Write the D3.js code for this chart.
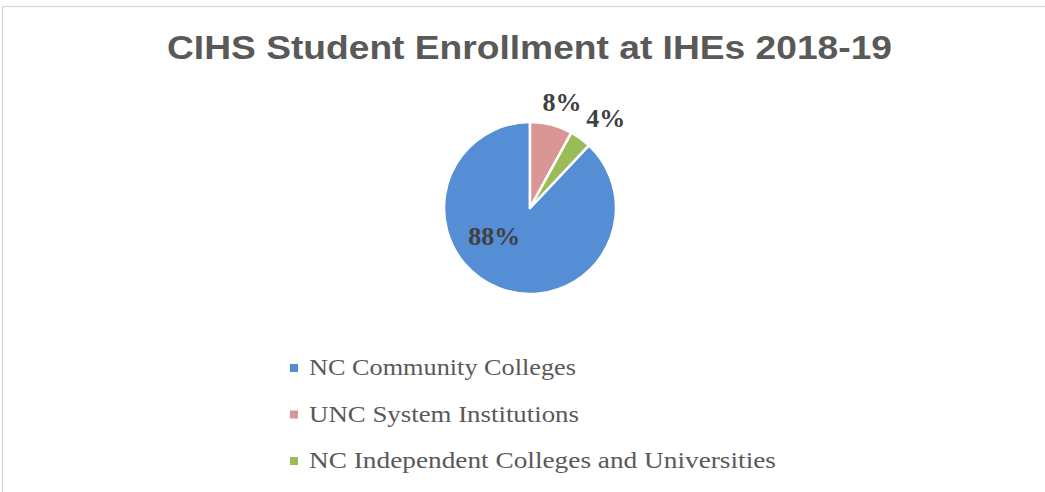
<!DOCTYPE html>
<html>
<head>
<meta charset="utf-8">
<script src="https://cdn.jsdelivr.net/npm/d3@7"></script>
<style>
  html, body { margin: 0; padding: 0; background: #fff; }
  svg { display: block; }
</style>
</head>
<body>
<svg id="chart" width="1045" height="492"></svg>
<script>
// ---- data ----
const categories = ["NC Community Colleges", "UNC System Institutions", "NC Independent Colleges and Universities"];
const values = [88, 8, 4];
const valueLabels = ["88%", "8%", "4%"];
const titleText = "CIHS Student Enrollment at IHEs 2018-19";

// ---- style ----
const colors = ["#558ED5", "#D99694", "#9BBB59"];
const labelRadiusFactor = [0.53, 1.29, 1.37];
const labelAngleShiftDeg = [30, 2.4, 4];
const legendTextLengths = [267, 270, 467];

const W = 1045, H = 492;
const cx = 530, cy = 208, R = 86;
const svg = d3.select("#chart");

// frame
svg.append("rect")
  .attr("x", 2.5).attr("y", 6.5)
  .attr("width", W + 10).attr("height", H + 10)
  .attr("fill", "none").attr("stroke", "#D9D9D9").attr("stroke-width", 1.3);

// title
svg.append("text")
  .attr("x", 529.5).attr("y", 59)
  .attr("text-anchor", "middle")
  .attr("font-family", "'Liberation Sans', Arial, sans-serif")
  .attr("font-weight", "bold")
  .attr("font-size", 34)
  .attr("fill", "#595959")
  .attr("textLength", 725)
  .attr("lengthAdjust", "spacingAndGlyphs")
  .text(titleText);

// pie
const total = d3.sum(values);
const startAngle = (1 - values[0] / total) * 2 * Math.PI; // first slice rotated so others sit at 12 o'clock
const pie = d3.pie().sort(null).value(d => d)
  .startAngle(startAngle).endAngle(startAngle + 2 * Math.PI);
const arcs = pie(values);
const arc = d3.arc().innerRadius(0).outerRadius(R);

const g = svg.append("g").attr("transform", `translate(${cx},${cy})`);
g.selectAll("path.slice")
  .data(arcs)
  .join("path")
  .attr("class", "slice")
  .attr("d", arc)
  .attr("fill", (d, i) => colors[i])
  .attr("stroke", "#fff")
  .attr("stroke-width", 2.5)
  .attr("stroke-linejoin", "round");

// data labels
g.selectAll("text.lbl")
  .data(arcs)
  .join("text")
  .attr("class", "lbl")
  .attr("transform", (d, i) => {
    const a = (d.startAngle + d.endAngle) / 2 + labelAngleShiftDeg[i] * Math.PI / 180;
    const r = R * labelRadiusFactor[i];
    return `translate(${Math.sin(a) * r},${-Math.cos(a) * r})`;
  })
  .attr("text-anchor", "middle")
  .attr("dy", "0.34em")
  .attr("font-family", "'Liberation Serif', serif")
  .attr("font-weight", "bold")
  .attr("font-size", 26)
  .attr("fill", "#404040")
  .text((d, i) => valueLabels[i]);

// legend
const ly = d3.scalePoint().domain(categories).range([375, 468]);
const leg = svg.append("g");
const items = leg.selectAll("g.item").data(categories).join("g")
  .attr("class", "item")
  .attr("transform", d => `translate(0,${ly(d)})`);
items.append("rect")
  .attr("x", 290).attr("y", -11)
  .attr("width", 8).attr("height", 8)
  .attr("fill", (d, i) => colors[i]);
items.append("text")
  .attr("x", 309).attr("y", 0)
  .attr("font-family", "'Liberation Serif', serif")
  .attr("font-size", 23)
  .attr("fill", "#595959")
  .attr("textLength", (d, i) => legendTextLengths[i])
  .attr("lengthAdjust", "spacingAndGlyphs")
  .text(d => d);
</script>
</body>
</html>
